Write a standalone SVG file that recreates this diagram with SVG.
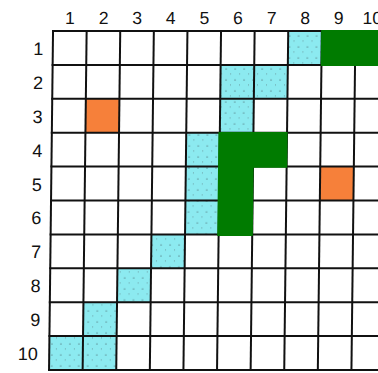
<svg xmlns="http://www.w3.org/2000/svg" width="378" height="373" viewBox="0 0 378 373">
  <defs>
    <pattern id="speck" width="9" height="11" patternUnits="userSpaceOnUse">
      <rect width="9" height="11" fill="#8ceaf0"/>
      <circle cx="2" cy="3" r="0.6" fill="#4a6a70"/>
      <circle cx="6.5" cy="8" r="0.5" fill="#5a7a80"/>
    </pattern>
  </defs>
  <style>
    .lbl { font-family: "Liberation Sans", Arial, sans-serif; font-size: 17.5px; fill: #111; }
    .col { text-anchor: middle; }
    .row { text-anchor: end; font-size: 18px; }
    .cyan { fill: url(#speck); }
    .orange { fill: #f6803a; }
    .green { fill: #007b00; }
    .grid line { stroke: #111; stroke-width: 2; }
  </style>
  <rect width="378" height="373" fill="#ffffff"/>
  <g transform="matrix(1,0,-0.0118,1,0,0)">
    <g id="column-labels" class="lbl col">
      <text x="70.2" y="24.5">1</text>
      <text x="103.8" y="24.5">2</text>
      <text x="137.4" y="24.5">3</text>
      <text x="171" y="24.5">4</text>
      <text x="204.6" y="24.5">5</text>
      <text x="238.2" y="24.5">6</text>
      <text x="271.8" y="24.5">7</text>
      <text x="305.4" y="24.5">8</text>
      <text x="339" y="24.5">9</text>
      <text x="372.6" y="24.5">10</text>
    </g>
    <g id="row-labels" class="lbl row">
      <text x="44" y="55">1</text>
      <text x="44" y="88.9">2</text>
      <text x="44" y="122.8">3</text>
      <text x="44" y="156.7">4</text>
      <text x="44" y="190.6">5</text>
      <text x="44" y="224.5">6</text>
      <text x="44" y="258.4">7</text>
      <text x="44" y="292.3">8</text>
      <text x="44" y="326.2">9</text>
      <text x="42" y="360.5">10</text>
    </g>
    <g id="path-cells">
      <rect class="cyan" x="288.6" y="31" width="33.6" height="33.9"/>
      <rect class="cyan" x="221.4" y="64.9" width="33.6" height="33.9"/>
      <rect class="cyan" x="255" y="64.9" width="33.6" height="33.9"/>
      <rect class="cyan" x="221.4" y="98.8" width="33.6" height="33.9"/>
      <rect class="cyan" x="187.8" y="132.7" width="33.6" height="33.9"/>
      <rect class="cyan" x="187.8" y="166.6" width="33.6" height="33.9"/>
      <rect class="cyan" x="187.8" y="200.5" width="33.6" height="33.9"/>
      <rect class="cyan" x="154.2" y="234.4" width="33.6" height="33.9"/>
      <rect class="cyan" x="120.6" y="268.3" width="33.6" height="33.9"/>
      <rect class="cyan" x="87" y="302.2" width="33.6" height="33.9"/>
      <rect class="cyan" x="53.4" y="336.1" width="33.6" height="33.9"/>
      <rect class="cyan" x="87" y="336.1" width="33.6" height="33.9"/>
    </g>
    <g id="targets">
      <rect class="orange" x="87" y="98.8" width="33.6" height="33.9"/>
      <rect class="orange" x="322.2" y="166.6" width="33.6" height="33.9"/>
    </g>
    <g class="grid" id="grid">
      <line x1="53.4" y1="30" x2="53.4" y2="371"/>
      <line x1="87" y1="30" x2="87" y2="371"/>
      <line x1="120.6" y1="30" x2="120.6" y2="371"/>
      <line x1="154.2" y1="30" x2="154.2" y2="371"/>
      <line x1="187.8" y1="30" x2="187.8" y2="371"/>
      <line x1="221.4" y1="30" x2="221.4" y2="371"/>
      <line x1="255" y1="30" x2="255" y2="371"/>
      <line x1="288.6" y1="30" x2="288.6" y2="371"/>
      <line x1="322.2" y1="30" x2="322.2" y2="371"/>
      <line x1="355.8" y1="30" x2="355.8" y2="371"/>
      <line x1="52.4" y1="31" x2="400" y2="31"/>
      <line x1="52.4" y1="64.9" x2="400" y2="64.9"/>
      <line x1="52.4" y1="98.8" x2="400" y2="98.8"/>
      <line x1="52.4" y1="132.7" x2="400" y2="132.7"/>
      <line x1="52.4" y1="166.6" x2="400" y2="166.6"/>
      <line x1="52.4" y1="200.5" x2="400" y2="200.5"/>
      <line x1="52.4" y1="234.4" x2="400" y2="234.4"/>
      <line x1="52.4" y1="268.3" x2="400" y2="268.3"/>
      <line x1="52.4" y1="302.2" x2="400" y2="302.2"/>
      <line x1="52.4" y1="336.1" x2="400" y2="336.1"/>
      <line x1="52.4" y1="370" x2="400" y2="370"/>
    </g>
    <g id="obstacles">
      <rect class="green" x="321.5" y="30" width="80" height="36"/>
      <path class="green" d="M220 132 H289.2 V167.8 H255.6 V236 H220 Z"/>
    </g>
  </g>
</svg>
